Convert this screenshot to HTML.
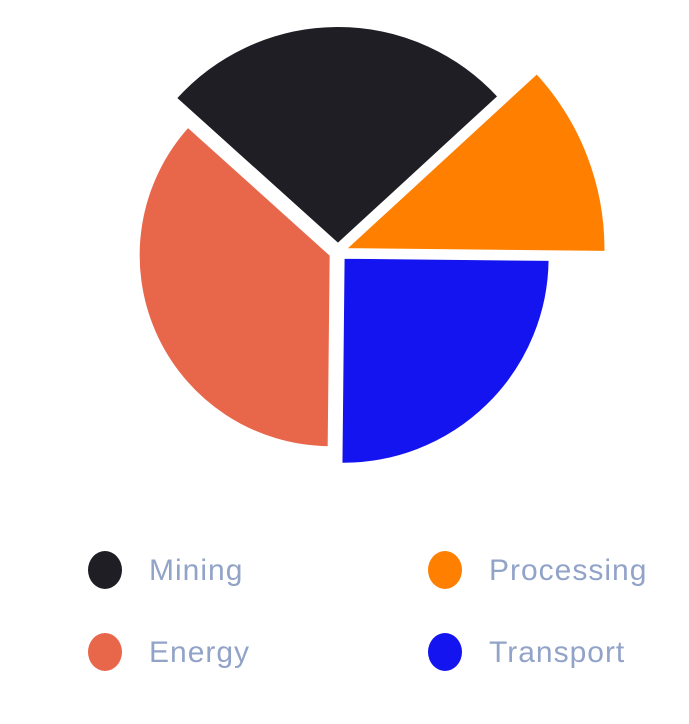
<!DOCTYPE html>
<html><head><meta charset="utf-8"><style>
body{margin:0;background:#fff;width:689px;height:719px;overflow:hidden;font-family:"Liberation Sans",sans-serif}
</style></head><body>
<svg id="chart" width="689" height="719" xmlns="http://www.w3.org/2000/svg"></svg>
<script>
const categories = ["Mining","Processing","Transport","Energy"];
const values = [26.5, 12, 25, 36.5];
const radii = [218, 260, 206, 192];
const colors = ["#1e1e24","#ff7f00","#1414f0","#e8664a"];
const cx = 338, cy = 252, explode = 8, startDeg = -48;
const NS = "http://www.w3.org/2000/svg";
const svg = document.getElementById('chart');
const total = values.reduce((a,b)=>a+b,0);
function pt(x,y,r,deg){const a=deg*Math.PI/180;return [x+r*Math.sin(a), y-r*Math.cos(a)];}
let ang = startDeg;
values.forEach((v,i)=>{
  const sweep = v/total*360, mid = ang+sweep/2;
  const [ox,oy] = pt(cx,cy,explode,mid);
  const [x1,y1] = pt(ox,oy,radii[i],ang);
  const [x2,y2] = pt(ox,oy,radii[i],ang+sweep);
  const p = document.createElementNS(NS,'path');
  p.setAttribute('d',`M${ox},${oy} L${x1},${y1} A${radii[i]},${radii[i]} 0 ${sweep>180?1:0} 1 ${x2},${y2} Z`);
  p.setAttribute('fill',colors[i]);
  p.setAttribute('stroke','#fff');
  p.setAttribute('stroke-width','2');
  
  
  svg.appendChild(p);
  ang += sweep;
});
const legPos = [[105,570],[445,570],[105,652],[445,652]];
const legOrder = [0,1,3,2];
legOrder.forEach((ci,k)=>{
  const [x,y] = legPos[k];
  const g = document.createElementNS(NS,'g');
  
  
  const c = document.createElementNS(NS,'ellipse');
  c.setAttribute('cx',x);c.setAttribute('cy',y);c.setAttribute('rx',17);c.setAttribute('ry',19);
  c.setAttribute('fill',colors[ci]);
  
  
  const t = document.createElementNS(NS,'text');
  t.setAttribute('x',x+44);t.setAttribute('y',y+10);
  t.setAttribute('font-size','30');t.setAttribute('fill','#92a3c8');
  t.setAttribute('letter-spacing','1');
  t.setAttribute('font-family','"Liberation Sans", sans-serif');
  
  
  t.textContent = categories[ci];
  g.appendChild(c);g.appendChild(t);svg.appendChild(g);
});
</script>
</body></html>
